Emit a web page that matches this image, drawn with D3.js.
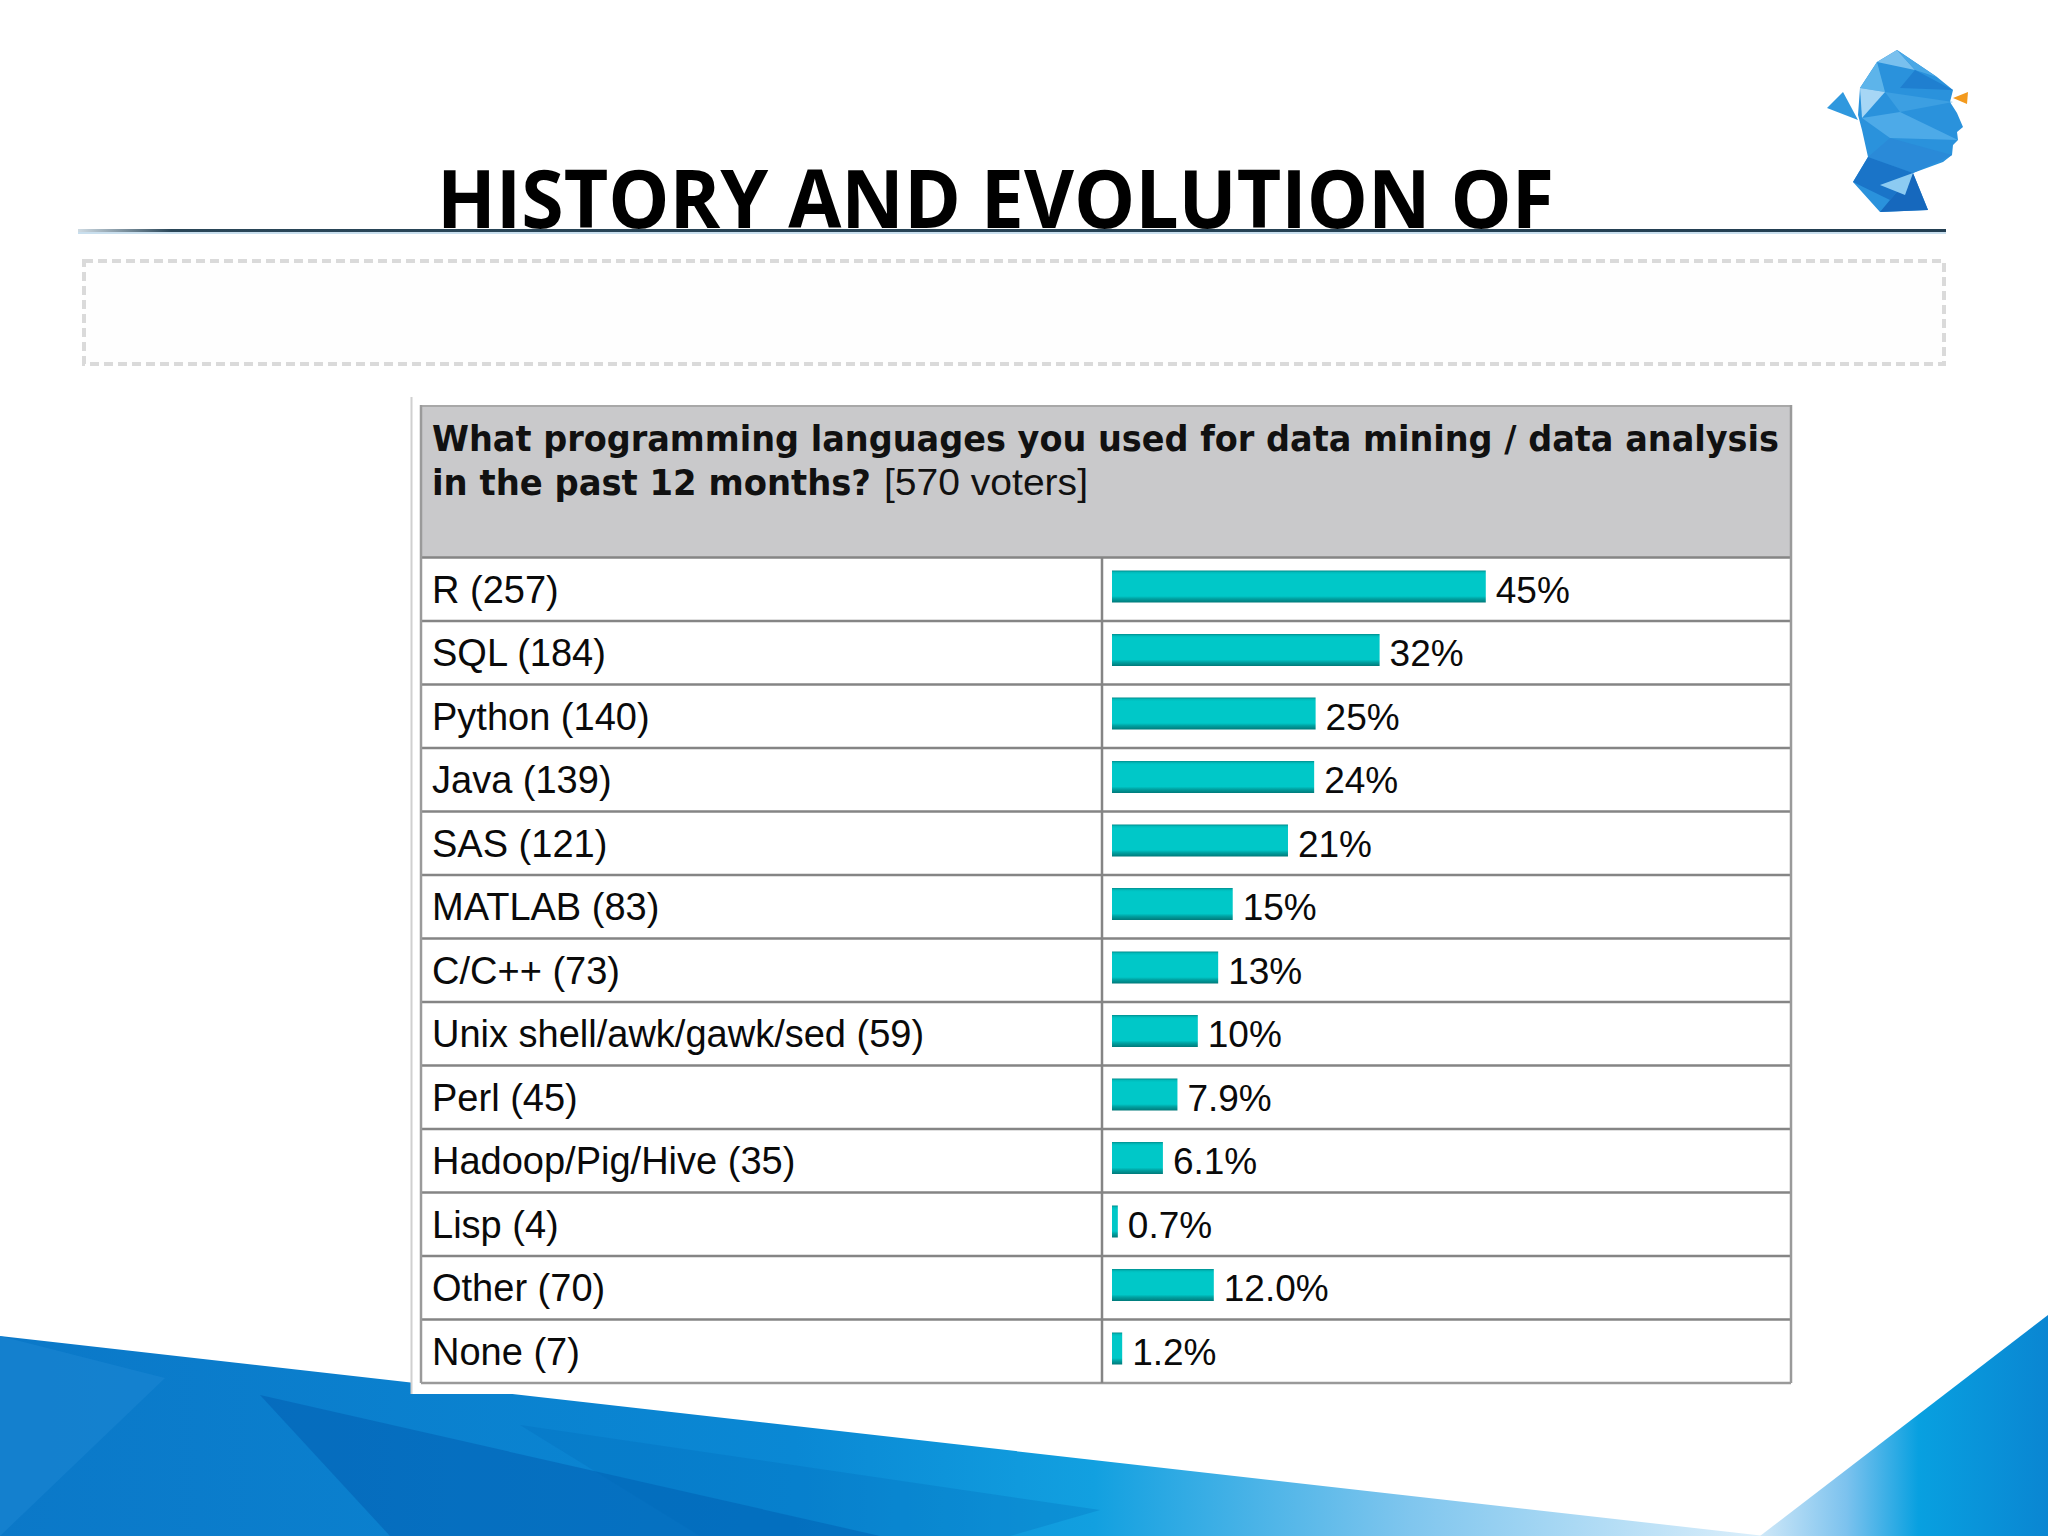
<!DOCTYPE html>
<html>
<head>
<meta charset="utf-8">
<script src="https://cdn.jsdelivr.net/npm/d3@7"></script>
<style>
  body { margin: 0; background: #fff; }
</style>
</head>
<body>
<script>
var languages = ["R", "SQL", "Python", "Java", "SAS", "MATLAB", "C/C++",
  "Unix shell/awk/gawk/sed", "Perl", "Hadoop/Pig/Hive", "Lisp", "Other", "None"];
var voters = [257, 184, 140, 139, 121, 83, 73, 59, 45, 35, 4, 70, 7];
var shares = ["45%", "32%", "25%", "24%", "21%", "15%", "13%", "10%", "7.9%", "6.1%", "0.7%", "12.0%", "1.2%"];
var totalVoters = 570;

var rows = languages.map(function(d, i) {
  return { name: d, n: voters[i], pct: shares[i] };
});

var W = 2048, H = 1536;

var svg = d3.select("body").append("svg")
  .attr("width", W)
  .attr("height", H)
  .style("display", "block");

var defs = svg.append("defs");

// gradients
var g1 = defs.append("linearGradient").attr("id", "blueLeft")
  .attr("x1", "0").attr("x2", "1").attr("y1", "0").attr("y2", "0");
[[0, "#0b78c8"], [0.45, "#0a88d4"], [0.62, "#12a0e0"], [0.8, "#80c6ee"], [1, "#dceffb"]]
  .forEach(function(s) { g1.append("stop").attr("offset", s[0]).attr("stop-color", s[1]); });

var g2 = defs.append("linearGradient").attr("id", "blueRight")
  .attr("x1", "0").attr("x2", "1").attr("y1", "0").attr("y2", "0");
[[0, "#cfe8f8"], [0.3, "#7cc2ee"], [0.55, "#08a0e0"], [1, "#0a86d2"]]
  .forEach(function(s) { g2.append("stop").attr("offset", s[0]).attr("stop-color", s[1]); });

var gb = defs.append("linearGradient").attr("id", "barGrad")
  .attr("x1", "0").attr("x2", "0").attr("y1", "0").attr("y2", "1");
[[0, "#008e8e"], [0.06, "#00bcbc"], [0.12, "#00c8c8"], [0.8, "#00c8c8"], [0.88, "#00a2a2"], [1, "#007a7a"]]
  .forEach(function(s) { gb.append("stop").attr("offset", s[0]).attr("stop-color", s[1]); });

var gl = defs.append("linearGradient").attr("id", "lineGrad")
  .attr("x1", "0").attr("x2", "1").attr("y1", "0").attr("y2", "0");
[[0, "#cfdbe3"], [0.05, "#2a4658"], [1, "#233f52"]]
  .forEach(function(s) { gl.append("stop").attr("offset", s[0]).attr("stop-color", s[1]); });

// bottom decoration
var line = d3.line();
svg.append("path")
  .attr("d", line([[0, 1336], [1765, 1536], [0, 1536]]) + "Z")
  .attr("fill", "url(#blueLeft)");
svg.append("path")
  .attr("d", line([[0, 1336], [165, 1378], [0, 1536]]) + "Z")
  .attr("fill", "#1a86d2").attr("opacity", 0.6);
svg.append("path")
  .attr("d", line([[260, 1395], [880, 1536], [390, 1536]]) + "Z")
  .attr("fill", "#0058ac").attr("opacity", 0.45);
svg.append("path")
  .attr("d", line([[520, 1425], [1100, 1510], [1010, 1536], [700, 1536]]) + "Z")
  .attr("fill", "#0068b8").attr("opacity", 0.25);
svg.append("path")
  .attr("d", line([[2048, 1315], [1760, 1536], [2048, 1536]]) + "Z")
  .attr("fill", "url(#blueRight)");

// title
svg.append("text")
  .attr("x", 437).attr("y", 228)
  .attr("textLength", 1117)
  .attr("lengthAdjust", "spacingAndGlyphs")
  .style("font-family", "'Open Sans', sans-serif")
  .style("font-weight", 700)
  .style("font-size", "81px")
  .attr("fill", "#000")
  .text("HISTORY AND EVOLUTION OF");

svg.append("rect")
  .attr("x", 78).attr("y", 229).attr("width", 1868).attr("height", 3)
  .attr("fill", "url(#lineGrad)");
svg.append("rect")
  .attr("x", 78).attr("y", 232).attr("width", 1868).attr("height", 2)
  .attr("fill", "#c9dfee");

// empty dashed subtitle box
svg.append("rect")
  .attr("x", 84).attr("y", 261).attr("width", 1860).attr("height", 103)
  .attr("fill", "#fefefe")
  .attr("stroke", "#dadada")
  .attr("stroke-width", 4)
  .attr("stroke-dasharray", "9 5");

// logo
var logo = svg.append("g");
var head = [[1897, 50], [1937, 77], [1953, 90], [1950, 102], [1957, 113], [1963, 127], [1957, 132],
  [1958, 140], [1953, 145], [1952, 155], [1943, 162], [1913, 173], [1928, 210], [1880, 212],
  [1853, 182], [1868, 157], [1862, 130], [1858, 115], [1860, 88], [1877, 62]];
logo.append("path").attr("d", line(head) + "Z").attr("fill", "#2a92dc");
var facets = [
  [[[1877, 62], [1897, 50], [1915, 70]], "#79c0ee"],
  [[[1897, 50], [1937, 77], [1915, 70]], "#4aa8e6"],
  [[[1915, 70], [1953, 90], [1900, 88]], "#1f7fd0"],
  [[[1860, 88], [1877, 62], [1885, 92]], "#5db4ea"],
  [[[1860, 88], [1885, 92], [1862, 118]], "#a6d6f5"],
  [[[1885, 92], [1953, 102], [1900, 112]], "#3c9fe2"],
  [[[1862, 118], [1900, 112], [1958, 140], [1890, 138]], "#4daae8"],
  [[[1868, 157], [1890, 138], [1952, 155], [1913, 173]], "#2a8ad8"],
  [[[1853, 182], [1868, 157], [1913, 173], [1890, 200]], "#1a74c8"],
  [[[1890, 200], [1913, 173], [1928, 210], [1880, 212]], "#1668bd"],
  [[[1880, 185], [1913, 173], [1905, 195]], "#8ccbf2"]
];
facets.forEach(function(f) {
  logo.append("path").attr("d", line(f[0]) + "Z").attr("fill", f[1]);
});
logo.append("path").attr("d", line([[1827, 108], [1843, 92], [1858, 120]]) + "Z").attr("fill", "#2f98de");
logo.append("path").attr("d", line([[1953, 98], [1968, 92], [1967, 104]]) + "Z").attr("fill", "#f39a1e");

// poll table
var tLeft = 421, tRight = 1791, tTop = 405, hBottom = 557.5, tBottom = 1383, colX = 1102;

// white panel behind the table
svg.append("rect")
  .attr("x", 411).attr("y", 397).attr("width", 1390).attr("height", 997)
  .attr("fill", "#fff");
svg.append("line")
  .attr("x1", 411.5).attr("x2", 411.5).attr("y1", 397).attr("y2", 1394)
  .attr("stroke", "#d0d0d0").attr("stroke-width", 2);

svg.append("rect")
  .attr("x", tLeft).attr("y", tTop).attr("width", tRight - tLeft).attr("height", hBottom - tTop)
  .attr("fill", "#c9c9cb");
svg.append("line")
  .attr("x1", tLeft).attr("x2", tRight).attr("y1", tTop + 1).attr("y2", tTop + 1)
  .attr("stroke", "#a8a8a8").attr("stroke-width", 2);

var hdr = svg.append("g")
  .style("font-family", "'DejaVu Sans', Verdana, sans-serif")
  .style("font-size", "35px")
  .attr("fill", "#111");
hdr.append("text")
  .attr("x", 432).attr("y", 451)
  .attr("textLength", 1347).attr("lengthAdjust", "spacingAndGlyphs")
  .style("font-weight", 700)
  .text("What programming languages you used for data mining / data analysis");
hdr.append("text")
  .attr("x", 432).attr("y", 495)
  .attr("textLength", 439).attr("lengthAdjust", "spacingAndGlyphs")
  .style("font-weight", 700)
  .text("in the past 12 months?");
hdr.append("text")
  .attr("x", 884).attr("y", 495)
  .attr("textLength", 204).attr("lengthAdjust", "spacingAndGlyphs")
  .style("font-family", "'Liberation Sans', Arial, sans-serif")
  .style("font-size", "37px")
  .text("[570 voters]");

var y = d3.scaleBand()
  .domain(languages)
  .range([hBottom, tBottom]);

var x = d3.scaleLinear()
  .domain([0, totalVoters])
  .range([0, 829]);

var barX = 1112;

svg.append("rect")
  .attr("x", tLeft).attr("y", hBottom).attr("width", tRight - tLeft).attr("height", tBottom - hBottom)
  .attr("fill", "#fff");

var row = svg.append("g").selectAll("g")
  .data(rows)
  .enter().append("g")
    .attr("transform", function(d) { return "translate(0," + y(d.name) + ")"; });

row.append("rect")
  .attr("x", barX)
  .attr("y", 13)
  .attr("width", function(d) { return x(d.n); })
  .attr("height", 32)
  .attr("fill", "url(#barGrad)");

row.append("text")
  .attr("x", 432)
  .attr("y", 45)
  .style("font-family", "'Liberation Sans', Arial, sans-serif")
  .style("font-size", "38px")
  .attr("fill", "#0a0a0a")
  .text(function(d) { return d.name + " (" + d.n + ")"; });

row.append("text")
  .attr("x", function(d) { return barX + x(d.n) + 10; })
  .attr("y", 45)
  .style("font-family", "'Liberation Sans', Arial, sans-serif")
  .style("font-size", "37px")
  .attr("fill", "#0a0a0a")
  .text(function(d) { return d.pct; });

// grid lines
var grid = svg.append("g")
  .attr("stroke", "#858585")
  .attr("stroke-width", 2.5)
  .attr("fill", "none");
grid.selectAll("line.h")
  .data(languages)
  .enter().append("line")
    .attr("class", "h")
    .attr("x1", tLeft).attr("x2", tRight)
    .attr("y1", function(d) { return y(d); })
    .attr("y2", function(d) { return y(d); });
grid.append("line")
  .attr("x1", tLeft).attr("x2", tRight).attr("y1", tBottom).attr("y2", tBottom)
  .attr("stroke", "#9a9a9a");
grid.append("line")
  .attr("x1", colX).attr("x2", colX).attr("y1", hBottom).attr("y2", tBottom);
grid.append("line")
  .attr("x1", tLeft).attr("x2", tLeft).attr("y1", tTop).attr("y2", tBottom)
  .attr("stroke", "#9a9a9a");
grid.append("line")
  .attr("x1", tRight).attr("x2", tRight).attr("y1", tTop).attr("y2", tBottom)
  .attr("stroke", "#9a9a9a");
</script>
</body>
</html>
